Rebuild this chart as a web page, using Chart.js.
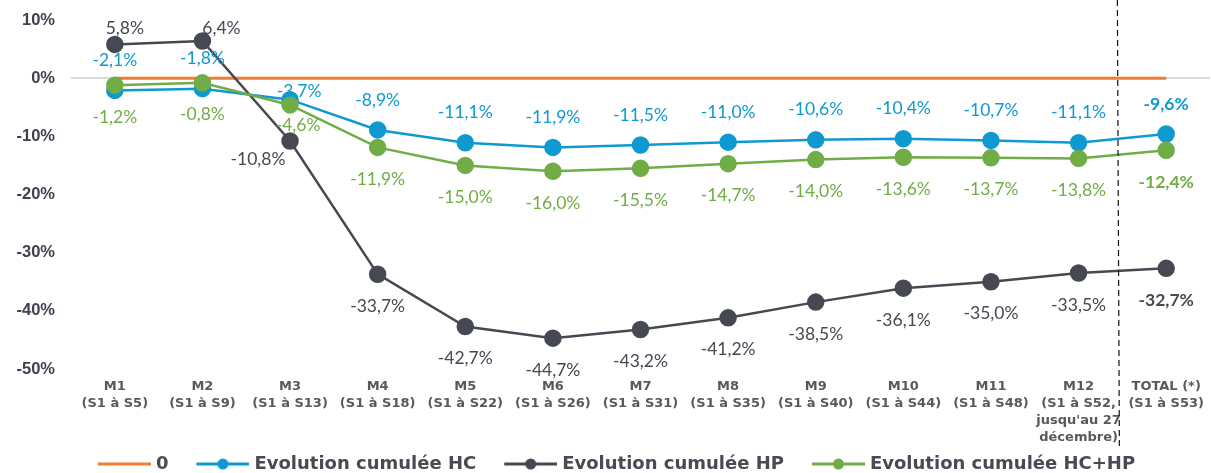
<!DOCTYPE html>
<html lang="fr">
<head>
<meta charset="utf-8">
<script src="https://cdn.jsdelivr.net/npm/chart.js@4.4.1/dist/chart.umd.min.js"></script>
<style>
  html, body { margin: 0; padding: 0; background: #fff; }
  #cadre { width: 1211px; height: 473px; }
</style>
</head>
<body>
<div id="cadre"><canvas id="graphique"></canvas></div>
<script>
// Catégories (mois cumulés) et séries
const MOIS = [
  ['M1', '(S1 à S5)'],
  ['M2', '(S1 à S9)'],
  ['M3', '(S1 à S13)'],
  ['M4', '(S1 à S18)'],
  ['M5', '(S1 à S22)'],
  ['M6', '(S1 à S26)'],
  ['M7', '(S1 à S31)'],
  ['M8', '(S1 à S35)'],
  ['M9', '(S1 à S40)'],
  ['M10', '(S1 à S44)'],
  ['M11', '(S1 à S48)'],
  ['M12', '(S1 à S52,', "jusqu'au 27", 'décembre)'],
  ['TOTAL (*)', '(S1 à S53)']
];
const ZERO = [0, 0, 0, 0, 0, 0, 0, 0, 0, 0, 0, 0, 0];
const EVOL_HC = [-2.1, -1.8, -3.7, -8.9, -11.1, -11.9, -11.5, -11.0, -10.6, -10.4, -10.7, -11.1, -9.6];
const EVOL_HP = [5.8, 6.4, -10.8, -33.7, -42.7, -44.7, -43.2, -41.2, -38.5, -36.1, -35.0, -33.5, -32.7];
const EVOL_HCHP = [-1.2, -0.8, -4.6, -11.9, -15.0, -16.0, -15.5, -14.7, -14.0, -13.6, -13.7, -13.8, -12.4];
const Y_MIN = -50, Y_MAX = 10, Y_PAS = 10;

const ORANGE = '#ED7D31';
const BLEU = '#0E9AD0';
const GRIS = '#464852';
const VERT = '#70AD47';
const TEXTE = '#4a4a55';

const fmt = v => v.toFixed(1).replace('.', ',') + '%';

// icone de légende : trait + rond
function iconeLegende(couleur, avecPoint) {
  const c = document.createElement('canvas');
  c.width = 80; c.height = 14;
  const g = c.getContext('2d');
  g.strokeStyle = couleur;
  g.lineWidth = 3;
  g.beginPath(); g.moveTo(27, 7); g.lineTo(80, 7); g.stroke();
  if (avecPoint) {
    g.fillStyle = couleur;
    g.beginPath(); g.arc(53.5, 7, 5.5, 0, Math.PI * 2); g.fill();
  }
  return c;
}

// étiquettes de valeurs
const etiquettes = {
  id: 'etiquettes',
  afterDatasetsDraw(chart) {
    const ctx = chart.ctx;
    ctx.save();
    ctx.textAlign = 'center';
    ctx.textBaseline = 'middle';
    chart.data.datasets.forEach((ds, i) => {
      if (!ds.etiquette) return;
      const meta = chart.getDatasetMeta(i);
      meta.data.forEach((pt, j) => {
        const spec = ds.etiquette.speciaux[j] || [0, ds.etiquette.dy];
        const dernier = j === ds.data.length - 1;
        ctx.font = (dernier ? 'bold ' : '') + '17.5px Lato, "Open Sans", sans-serif';
        ctx.fillStyle = ds.borderColor;
        ctx.fillText(fmt(ds.data[j]), pt.x + spec[0], pt.y + spec[1]);
      });
    });
    ctx.restore();
  }
};

// trait vertical en pointillés avant le total
const separateur = {
  id: 'separateur',
  afterDraw(chart) {
    const x = chart.scales.x;
    const px = (x.getPixelForValue(11) + x.getPixelForValue(12)) / 2 - 5;
    const ctx = chart.ctx;
    ctx.save();
    ctx.strokeStyle = '#111';
    ctx.lineWidth = 1.2;
    ctx.setLineDash([6, 4]);
    ctx.beginPath();
    ctx.moveTo(px, 0);
    ctx.lineTo(px + 2, 450);
    ctx.stroke();
    ctx.restore();
  }
};

new Chart(document.getElementById('graphique'), {
  type: 'line',
  data: {
    labels: MOIS,
    datasets: [
      {
        label: '0', data: ZERO, borderColor: ORANGE, backgroundColor: ORANGE,
        borderWidth: 3, pointRadius: 0, order: 3, icone: iconeLegende(ORANGE, false)
      },
      {
        label: 'Evolution cumulée HC', data: EVOL_HC, borderColor: BLEU, backgroundColor: BLEU,
        borderWidth: 2.5, pointRadius: 7.5, order: 1, icone: iconeLegende(BLEU, true),
        etiquette: { dy: -30, speciaux: { 2: [9, -8] } }
      },
      {
        label: 'Evolution cumulée HP', data: EVOL_HP, borderColor: GRIS, backgroundColor: GRIS,
        borderWidth: 2.5, pointRadius: 7.5, order: 2, icone: iconeLegende(GRIS, true),
        etiquette: { dy: 32, speciaux: { 0: [10, -16], 1: [19, -13], 2: [-32, 18] } }
      },
      {
        label: 'Evolution cumulée HC+HP', data: EVOL_HCHP, borderColor: VERT, backgroundColor: VERT,
        borderWidth: 2.5, pointRadius: 7.5, order: 0, icone: iconeLegende(VERT, true),
        etiquette: { dy: 32, speciaux: { 2: [8, 20] } }
      }
    ]
  },
  options: {
    responsive: true,
    maintainAspectRatio: false,
    animation: false,
    layout: { autoPadding: false, padding: { top: 20, right: 1, left: 0, bottom: -10 } },
    plugins: {
      tooltip: { enabled: false },
      legend: {
        position: 'bottom',
        labels: {
          usePointStyle: true,
          pointStyleWidth: 72,
          padding: 5,
          color: TEXTE,
          font: { family: '"DejaVu Sans", sans-serif', size: 18, weight: 'bold' },
          generateLabels: chart => chart.data.datasets.map((ds, i) => ({
            text: ds.label,
            pointStyle: ds.icone,
            fillStyle: ds.borderColor,
            strokeStyle: ds.borderColor,
            lineWidth: 0,
            fontColor: TEXTE,
            hidden: false,
            datasetIndex: i
          }))
        }
      }
    },
    scales: {
      x: {
        offset: true,
        grid: { display: false },
        border: { display: false },
        ticks: {
          autoSkip: false,
          maxRotation: 0,
          padding: 1,
          color: '#595959',
          font: { family: '"DejaVu Sans", sans-serif', size: 13, weight: 'bold', lineHeight: '17px' }
        },
        afterFit: s => { s.height = 81; s.paddingLeft = 0; s.paddingRight = 0; }
      },
      y: {
        min: Y_MIN,
        max: Y_MAX,
        ticks: {
          stepSize: Y_PAS,
          padding: 16,
          color: '#404050',
          font: { family: '"Liberation Sans", Arial, sans-serif', size: 16.5, weight: 'bold' },
          callback: v => v + '%'
        },
        grid: {
          drawTicks: false,
          lineWidth: 2,
          color: c => c.tick && c.tick.value === 0 ? '#d9d9d9' : 'rgba(0,0,0,0)'
        },
        border: { display: false },
        afterFit: s => { s.width = 71; s.paddingTop = 0; s.paddingBottom = 0; }
      }
    }
  },
  plugins: [etiquettes, separateur]
});
</script>
</body>
</html>
